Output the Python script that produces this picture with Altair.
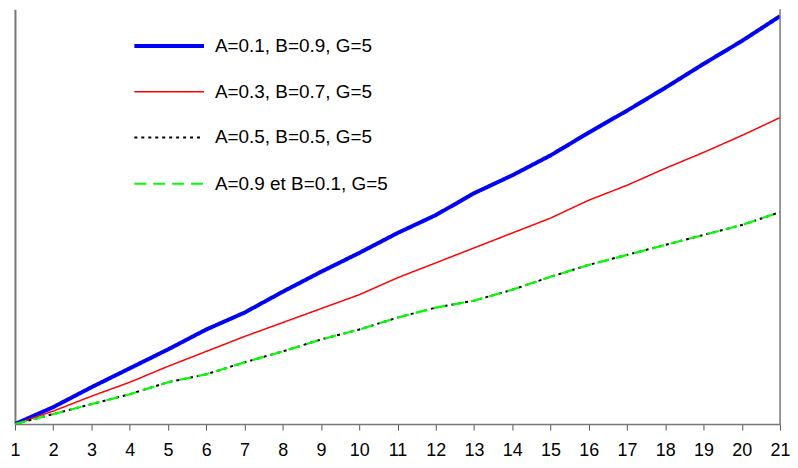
import altair as alt
import pandas as pd

x_vals = list(range(1, 22))
series_names = ["A=0.1, B=0.9, G=5", "A=0.3, B=0.7, G=5", "A=0.5, B=0.5, G=5", "A=0.9 et B=0.1, G=5"]
blue = [0, 17, 37, 56, 75, 95, 112, 133, 153, 172, 192, 210, 232, 250, 270, 293, 315, 338, 362, 385, 410]
red = [0, 13, 28, 42, 58, 73, 88, 102, 116, 130, 147, 162, 177, 192, 207, 225, 240, 257, 273, 290, 308]
black = [0, 10, 20, 30, 42, 50, 62, 73, 85, 95, 107, 117, 124, 135, 148, 160, 170, 180, 190, 200, 213]
green = [0, 10, 20, 30, 42, 50, 62, 73, 85, 95, 107, 117, 124, 135, 148, 160, 170, 180, 190, 200, 213]

colors = ["#0000FF", "#FF0000", "#000000", "#00FF00"]
dashes = [[1, 0], [1, 0], [3, 4], [12, 7]]
widths = [4, 1.5, 2, 2.2]

rows = []
for name, vals in zip(series_names, [blue, red, black, green]):
    for xv, yv in zip(x_vals, vals):
        rows.append({"x": xv, "y": yv, "series": name})
df = pd.DataFrame(rows)

leg = alt.Legend(
    title=None, orient="none", legendX=118, legendY=0, symbolType="stroke",
    symbolSize=4900, labelFontSize=19, labelFont="Liberation Sans", labelColor="black",
    rowPadding=-25, padding=0, labelOffset=9, labelLimit=400,
)

x_axis = alt.Axis(values=x_vals, title=None, grid=False, labelFontSize=18,
                  labelFont="Liberation Sans", labelColor="black", tickSize=6,
                  labelPadding=12, domainColor="#777777", tickColor="#555555",
                  domainWidth=1.5, labelFlush=False, labelOverlap=False)
x_scale = alt.Scale(domain=[1, 21], nice=False, zero=False)

chart = alt.Chart(df).mark_line(clip=True).encode(
    x=alt.X("x:Q", scale=x_scale, axis=x_axis),
    y=alt.Y("y:Q", scale=alt.Scale(domain=[0, 417], nice=False),
            axis=alt.Axis(title=None, labels=False, ticks=False, grid=False,
                          domainColor="#777777", domainWidth=2)),
    color=alt.Color("series:N", scale=alt.Scale(domain=series_names, range=colors), legend=leg),
    strokeDash=alt.StrokeDash("series:N", scale=alt.Scale(type="ordinal", domain=series_names, range=dashes), legend=leg),
    strokeWidth=alt.StrokeWidth("series:N", scale=alt.Scale(type="ordinal", domain=series_names, range=widths), legend=leg),
    order=alt.Order("series:N"),
)

right = alt.Chart(pd.DataFrame({"x": [21]})).mark_rule(color="#777777", strokeWidth=1.5).encode(
    x=alt.X("x:Q", scale=x_scale, axis=x_axis), y=alt.value(0), y2=alt.value(417)
)

final = alt.layer(chart, right).properties(
    width=769, height=417, autosize=alt.AutoSizeParams(type="none"),
    padding={"left": 7, "top": 0, "right": 10, "bottom": 40}
).configure_view(stroke=None).configure_axis(labelFontSize=18, labelOverlap=False)

final.save("out.html", embed_options={"renderer": "svg", "actions": False})
